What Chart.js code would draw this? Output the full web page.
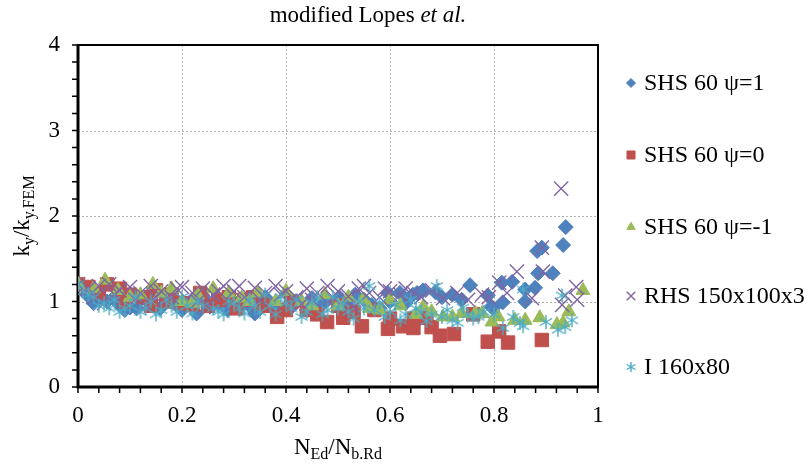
<!DOCTYPE html>
<html>
<head>
<meta charset="utf-8">
<script src="https://cdn.jsdelivr.net/npm/chart.js@4.4.1/dist/chart.umd.min.js"></script>
<style>
  html, body { margin: 0; padding: 0; background: #fff; }
  #wrap { width: 808px; height: 465px; }
</style>
</head>
<body>
<div id="wrap"><canvas id="chart"></canvas></div>
<script>
// values (N_Ed/N_b.Rd , k_y/k_y.FEM)
const seriesNames = ['SHS 60 \u03c8=1', 'SHS 60 \u03c8=0', 'SHS 60 \u03c8=-1', 'RHS 150x100x3', 'I 160x80'];

const shs1X = [0, 0.017, 0.03, 0.036, 0.056, 0.07, 0.08, 0.09, 0.1, 0.113, 0.12, 0.14, 0.158, 0.17, 0.19, 0.2, 0.22, 0.228, 0.24, 0.254, 0.27, 0.288, 0.3, 0.31, 0.33, 0.34, 0.36, 0.373, 0.39, 0.408, 0.42, 0.44, 0.45, 0.469, 0.48, 0.504, 0.52, 0.533, 0.55, 0.565, 0.58, 0.596, 0.6, 0.619, 0.63, 0.644, 0.652, 0.664, 0.687, 0.7, 0.72, 0.738, 0.754, 0.788, 0.795, 0.798, 0.815, 0.817, 0.835, 0.86, 0.86, 0.879, 0.883, 0.885, 0.892, 0.913, 0.933, 0.938];
const shs1Y = [1.2, 1.08, 0.98, 1.04, 1.0, 1.05, 0.96, 0.9, 0.93, 0.92, 1.02, 0.98, 0.92, 1.0, 0.96, 0.9, 1.02, 0.86, 1.05, 0.94, 0.98, 0.9, 1.0, 0.92, 0.95, 0.86, 1.05, 0.96, 0.88, 0.92, 1.0, 0.9, 1.04, 0.96, 1.02, 1.04, 0.95, 1.08, 1.02, 0.96, 0.92, 1.1, 1.0, 1.1, 0.98, 1.08, 1.1, 1.13, 1.11, 1.05, 1.08, 1.02, 1.19, 1.07, 0.94, 0.92, 1.22, 0.99, 1.23, 1.0, 1.14, 1.16, 1.59, 1.33, 1.63, 1.33, 1.66, 1.87];

const shs0X = [0, 0.02, 0.04, 0.056, 0.08, 0.09, 0.1, 0.125, 0.14, 0.15, 0.17, 0.18, 0.2, 0.22, 0.235, 0.25, 0.27, 0.29, 0.305, 0.32, 0.337, 0.35, 0.36, 0.383, 0.4, 0.41, 0.44, 0.46, 0.479, 0.5, 0.51, 0.53, 0.546, 0.57, 0.596, 0.6, 0.625, 0.645, 0.646, 0.67, 0.68, 0.696, 0.723, 0.76, 0.788, 0.81, 0.827, 0.892];
const shs0Y = [1.2, 1.17, 1.1, 1.2, 1.15, 1.0, 1.08, 1.05, 0.95, 1.13, 1.0, 1.08, 0.98, 0.96, 1.1, 0.95, 1.02, 1.05, 0.92, 1.02, 1.05, 0.98, 0.95, 0.82, 0.9, 1.0, 0.9, 0.85, 0.76, 0.95, 0.81, 0.88, 0.71, 0.9, 0.68, 0.8, 0.71, 0.69, 0.8, 0.81, 0.7, 0.6, 0.62, 0.85, 0.53, 0.65, 0.52, 0.55];

const shsm1X = [0, 0.03, 0.052, 0.077, 0.1, 0.12, 0.144, 0.16, 0.18, 0.2, 0.22, 0.23, 0.26, 0.29, 0.315, 0.33, 0.346, 0.38, 0.4, 0.43, 0.45, 0.475, 0.5, 0.52, 0.548, 0.56, 0.58, 0.6, 0.62, 0.65, 0.664, 0.68, 0.702, 0.72, 0.738, 0.764, 0.777, 0.796, 0.808, 0.84, 0.86, 0.888, 0.921, 0.933, 0.944, 0.971];
const shsm1Y = [1.2, 1.15, 1.25, 1.13, 1.05, 1.08, 1.2, 1.1, 1.15, 1.0, 0.98, 1.08, 1.15, 1.1, 1.04, 1.0, 1.1, 1.0, 1.12, 1.0, 0.95, 1.08, 0.95, 1.05, 1.02, 0.92, 0.9, 1.02, 0.95, 0.85, 0.94, 0.88, 0.82, 0.82, 0.86, 0.86, 0.86, 0.76, 0.82, 0.78, 0.78, 0.81, 0.73, 0.75, 0.88, 1.13];

const rhsX = [0, 0.02, 0.03, 0.04, 0.05, 0.06, 0.07, 0.08, 0.1, 0.11, 0.12, 0.13, 0.14, 0.15, 0.16, 0.18, 0.19, 0.2, 0.22, 0.23, 0.24, 0.25, 0.26, 0.27, 0.28, 0.3, 0.31, 0.32, 0.34, 0.35, 0.36, 0.38, 0.39, 0.4, 0.42, 0.43, 0.44, 0.45, 0.46, 0.48, 0.49, 0.5, 0.52, 0.53, 0.54, 0.55, 0.56, 0.58, 0.59, 0.6, 0.62, 0.63, 0.645, 0.66, 0.681, 0.702, 0.729, 0.75, 0.777, 0.79, 0.81, 0.825, 0.844, 0.873, 0.892, 0.894, 0.929, 0.931, 0.937, 0.958, 0.96];
const rhsY = [1.2, 1.15, 1.05, 1.18, 0.98, 1.2, 1.08, 1.13, 1.17, 1.02, 1.1, 0.95, 1.18, 1.05, 1.12, 1.05, 1.15, 1.17, 1.1, 1.0, 1.15, 0.95, 1.08, 1.12, 1.18, 1.12, 1.18, 1.05, 1.16, 1.02, 1.1, 1.18, 1.08, 1.12, 1.05, 0.97, 1.15, 1.02, 1.1, 1.18, 1.05, 1.12, 1.06, 0.93, 1.15, 1.18, 1.1, 1.05, 1.15, 1.12, 1.08, 1.15, 1.1, 1.05, 1.13, 1.04, 1.1, 1.02, 1.08, 1.05, 1.22, 1.1, 1.35, 1.04, 1.63, 1.35, 2.32, 0.96, 1.07, 1.17, 1.02];

const iX = [0, 0.01, 0.02, 0.03, 0.04, 0.05, 0.06, 0.07, 0.08, 0.09, 0.1, 0.11, 0.12, 0.13, 0.14, 0.15, 0.16, 0.17, 0.18, 0.19, 0.2, 0.21, 0.22, 0.23, 0.24, 0.26, 0.27, 0.28, 0.29, 0.3, 0.31, 0.32, 0.33, 0.34, 0.35, 0.36, 0.37, 0.38, 0.39, 0.4, 0.41, 0.42, 0.43, 0.44, 0.45, 0.46, 0.47, 0.48, 0.49, 0.5, 0.51, 0.52, 0.53, 0.54, 0.55, 0.56, 0.57, 0.58, 0.59, 0.6, 0.61, 0.62, 0.63, 0.64, 0.65, 0.66, 0.67, 0.68, 0.69, 0.7, 0.71, 0.72, 0.73, 0.74, 0.75, 0.76, 0.77, 0.78, 0.8, 0.817, 0.837, 0.85, 0.856, 0.856, 0.9, 0.923, 0.931, 0.937, 0.95];
const iY = [1.2, 1.12, 1.08, 1.05, 0.95, 0.98, 0.92, 1.02, 0.88, 0.92, 0.95, 1.05, 0.88, 0.92, 1.0, 0.85, 0.9, 1.02, 0.95, 0.88, 1.05, 0.95, 0.86, 1.0, 0.95, 0.92, 0.88, 0.85, 1.0, 0.98, 0.92, 0.86, 1.02, 0.95, 0.88, 1.08, 0.95, 0.85, 1.05, 0.98, 0.92, 1.02, 0.82, 0.88, 0.98, 1.05, 0.85, 0.9, 1.05, 0.92, 0.98, 0.88, 0.8, 1.0, 0.92, 1.18, 0.9, 0.98, 0.82, 0.88, 0.96, 0.78, 0.85, 1.02, 0.92, 0.88, 0.77, 0.85, 1.18, 0.82, 0.9, 0.78, 0.75, 0.93, 0.85, 0.8, 0.82, 0.88, 0.85, 0.69, 0.82, 0.75, 0.71, 1.14, 0.76, 0.67, 1.07, 0.7, 0.78];

const xTicks = [0, 0.2, 0.4, 0.6, 0.8, 1];
const yTicks = [0, 1, 2, 3, 4];

const serif = "'Liberation Serif', 'Times New Roman', serif";

// asterisk marker like Excel's (X with a vertical bar)
function asterisk(size, color) {
  const c = document.createElement('canvas');
  c.width = size; c.height = size;
  const g = c.getContext('2d');
  const m = size / 2, r = size / 2 - 1;
  g.strokeStyle = color; g.lineWidth = 1.4;
  g.beginPath();
  g.moveTo(m, m - r); g.lineTo(m, m + r);
  g.moveTo(m - r * 0.87, m - r * 0.5); g.lineTo(m + r * 0.87, m + r * 0.5);
  g.moveTo(m - r * 0.87, m + r * 0.5); g.lineTo(m + r * 0.87, m - r * 0.5);
  g.stroke();
  return c;
}

const toPts = (xs, ys) => xs.map((x, i) => ({ x: x, y: ys[i] }));

const styles = [
  { color: '#4F81BD', pointStyle: 'rectRot', radius: 7.5, borderWidth: 1 },
  { color: '#C0504D', pointStyle: 'rect', radius: 9.5, borderWidth: 1 },
  { color: '#9BBB59', pointStyle: 'triangle', radius: 8, borderWidth: 1 },
  { color: '#8064A2', pointStyle: 'crossRot', radius: 10, borderWidth: 1.4 },
  { color: '#4BACC6', pointStyle: asterisk(16, '#4BACC6'), radius: 8, borderWidth: 1 }
];
const dataSets = [toPts(shs1X, shs1Y), toPts(shs0X, shs0Y), toPts(shsm1X, shsm1Y), toPts(rhsX, rhsY), toPts(iX, iY)];

const datasets = dataSets.map((d, i) => ({
  label: seriesNames[i],
  data: d,
  order: 5 - i,
  pointStyle: styles[i].pointStyle,
  pointRadius: styles[i].radius,
  pointHoverRadius: styles[i].radius,
  pointBackgroundColor: styles[i].color,
  pointBorderColor: styles[i].color,
  pointBorderWidth: styles[i].borderWidth,
  showLine: false
}));

// grid, frame, ticks, titles and legend
const decor = {
  id: 'decor',
  beforeDatasetsDraw(chart) {
    const { ctx, chartArea: a, scales: { x, y } } = chart;
    ctx.save();
    ctx.strokeStyle = '#b0b0b0';
    ctx.lineWidth = 1;
    ctx.setLineDash([2, 2]);
    ctx.beginPath();
    xTicks.slice(1, -1).forEach(v => {
      const px = Math.round(x.getPixelForValue(v)) + 0.5;
      ctx.moveTo(px, a.top); ctx.lineTo(px, a.bottom);
    });
    yTicks.slice(1, -1).forEach(v => {
      const py = Math.round(y.getPixelForValue(v)) + 0.5;
      ctx.moveTo(a.left, py); ctx.lineTo(a.right, py);
    });
    ctx.stroke();
    ctx.setLineDash([]);

    // minor / major tick marks
    ctx.strokeStyle = '#000';
    ctx.lineWidth = 1.5;
    ctx.beginPath();
    for (let i = 0; i <= 25; i++) {
      const px = x.getPixelForValue(i * 0.04);
      ctx.moveTo(px, a.bottom); ctx.lineTo(px, a.bottom + 6);
    }
    for (let i = 0; i <= 20; i++) {
      const py = y.getPixelForValue(i * 0.2);
      ctx.moveTo(a.left, py); ctx.lineTo(a.left - 6, py);
    }
    ctx.stroke();

    ctx.lineWidth = 2;
    ctx.strokeRect(a.left, a.top, a.right - a.left, a.bottom - a.top);
    ctx.lineWidth = 3;
    ctx.beginPath();
    ctx.moveTo(a.left, a.top); ctx.lineTo(a.left, a.bottom); ctx.lineTo(a.right, a.bottom);
    ctx.stroke();
    ctx.restore();
  },
  afterDraw(chart) {
    const { ctx, chartArea: a } = chart;
    ctx.save();
    ctx.fillStyle = '#000';
    ctx.textBaseline = 'alphabetic';

    // title (centred a little right of the plot, as in the reference)
    const cx = (a.left + a.right) / 2;
    const tx = 368;
    ctx.font = '23px ' + serif;
    const t1 = 'modified Lopes ';
    const w1 = ctx.measureText(t1).width;
    ctx.font = 'italic 23px ' + serif;
    const t2 = 'et al.';
    const w2 = ctx.measureText(t2).width;
    const sx = tx - (w1 + w2) / 2;
    ctx.textAlign = 'left';
    ctx.font = '23px ' + serif;
    ctx.fillText(t1, sx, 22);
    ctx.font = 'italic 23px ' + serif;
    ctx.fillText(t2, sx + w1, 22);

    // axis titles with subscripts
    function subText(parts, x0, y0) {
      let xx = x0;
      parts.forEach(p => {
        ctx.font = (p[1] ? '16px ' : '23px ') + serif;
        ctx.fillText(p[0], xx, y0 + (p[1] ? 5 : 0));
        xx += ctx.measureText(p[0]).width;
      });
    }
    function subWidth(parts) {
      return parts.reduce((s, p) => {
        ctx.font = (p[1] ? '16px ' : '23px ') + serif;
        return s + ctx.measureText(p[0]).width;
      }, 0);
    }
    const xt = [['N', 0], ['Ed', 1], ['/N', 0], ['b.Rd', 1]];
    subText(xt, cx - subWidth(xt) / 2, 454);

    const yt = [['k', 0], ['y', 1], ['/k', 0], ['y.FEM', 1]];
    ctx.save();
    ctx.translate(29, (a.top + a.bottom) / 2);
    ctx.rotate(-Math.PI / 2);
    subText(yt, -subWidth(yt) / 2, 0);
    ctx.restore();

    // legend
    const legY = [83, 155, 227, 296, 367];
    styles.forEach((s, i) => {
      ctx.fillStyle = s.color;
      ctx.strokeStyle = s.color;
      ctx.lineWidth = s.borderWidth;
      let ps = s.pointStyle;
      let r = s.radius * 0.6;
      if (typeof ps !== 'string') { ps = asterisk(12, s.color); r = 6; }
      Chart.helpers.drawPoint(ctx, { pointStyle: ps, radius: r, rotation: 0, borderWidth: s.borderWidth }, 631, legY[i]);
      ctx.fillStyle = '#000';
      ctx.font = '24px ' + serif;
      ctx.textAlign = 'left';
      ctx.textBaseline = 'middle';
      ctx.fillText(seriesNames[i], 644, legY[i] + 1);
      ctx.textBaseline = 'alphabetic';
    });
    ctx.restore();
  }
};

new Chart(document.getElementById('chart'), {
  type: 'scatter',
  data: { datasets: datasets },
  options: {
    responsive: true,
    maintainAspectRatio: false,
    animation: false,
    events: [],
    layout: { padding: { top: 45, right: 210, left: 0, bottom: 0 } },
    plugins: {
      legend: { display: false },
      tooltip: { enabled: false },
      title: { display: false }
    },
    scales: {
      x: {
        type: 'linear',
        min: 0, max: 1,
        afterBuildTicks: s => { s.ticks = xTicks.map(v => ({ value: v })); },
        afterFit: s => { s.height = 78; },
        grid: { display: false },
        border: { display: false },
        ticks: {
          color: '#000',
          font: { family: serif, size: 23 },
          padding: 7,
          maxRotation: 0,
          callback: v => String(+v.toFixed(1))
        }
      },
      y: {
        type: 'linear',
        min: 0, max: 4,
        afterBuildTicks: s => { s.ticks = yTicks.map(v => ({ value: v })); },
        afterFit: s => { s.width = 78; },
        grid: { display: false },
        border: { display: false },
        ticks: {
          color: '#000',
          font: { family: serif, size: 23 },
          padding: 10
        }
      }
    }
  },
  plugins: [decor]
});
</script>
</body>
</html>
